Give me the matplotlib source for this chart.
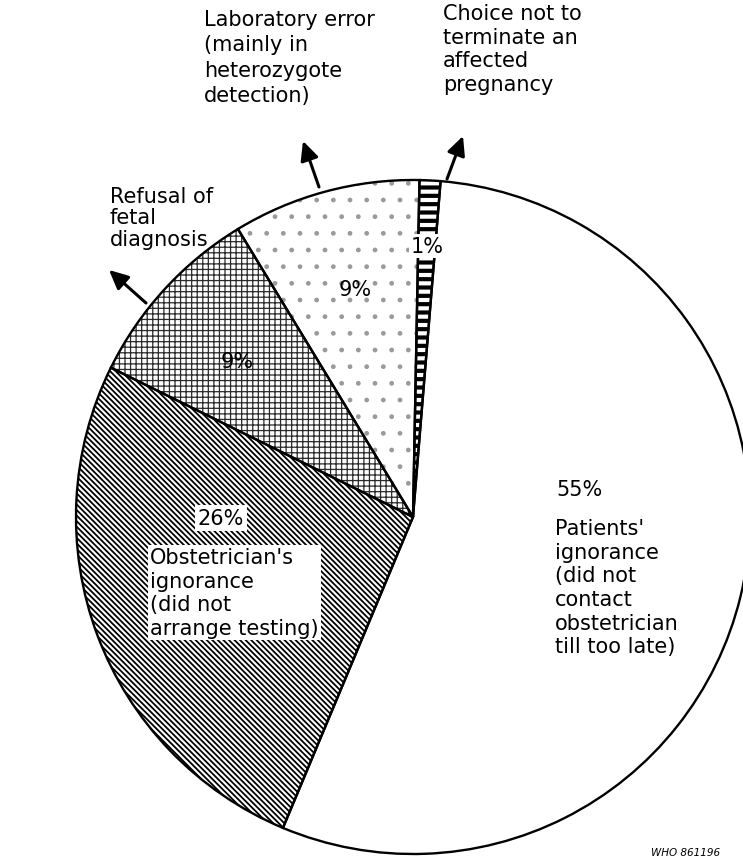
import matplotlib
matplotlib.use("Agg")
import matplotlib.pyplot as plt
from matplotlib.patches import Wedge

# ---- data ----
categories = [
    "Choice not to terminate an affected pregnancy",
    "Laboratory error (mainly in heterozygote detection)",
    "Refusal of fetal diagnosis",
    "Obstetrician's ignorance (did not arrange testing)",
    "Patients' ignorance (did not contact obstetrician till too late)",
]
values = [1, 9, 9, 26, 55]
pct_labels = ["1%", "9%", "9%", "26%", "55%"]
hatches = ["--", ".", "+++", "\\" * 6, ""]
hatch_colors = ["black", "#9a9a9a", "#2a2a2a", "black", "black"]
hatch_lws = [3.0, 1.0, 0.9, 1.3, 1.0]

W, H = 743, 862
fig = plt.figure(figsize=(W / 100, H / 100), dpi=100)
ax = fig.add_axes([0, 0, 1, 1])


def Y(y):
    return H - y


CX, CY, R = 413, 518, 337
wedges, _ = ax.pie(values, startangle=85.3, counterclock=True,
                   center=(CX, Y(CY)), radius=R, colors=["white"] * 5,
                   wedgeprops=dict(edgecolor="none", linewidth=0),
                   frame=True)
for w, h, hc, lw in zip(wedges, hatches, hatch_colors, hatch_lws):
    if h:
        p = Wedge(w.center, w.r, w.theta1, w.theta2, fill=False,
                  hatch=h, edgecolor=hc, linewidth=0)
        if hasattr(p, "set_hatch_linewidth"):
            p.set_hatch_linewidth(lw)
        ax.add_patch(p)
for w in wedges:
    ax.add_patch(Wedge(w.center, w.r, w.theta1, w.theta2, fill=False,
                       edgecolor="black", linewidth=1.7))

ax.set_xlim(0, W)
ax.set_ylim(0, H)
ax.set_aspect("equal")
ax.axis("off")

fs = 15
txt = dict(fontsize=fs, family="DejaVu Sans", color="black")

# percentage labels
ax.text(427, Y(247), pct_labels[0], ha="center", va="center",
        bbox=dict(boxstyle="square,pad=0.08", fc="white", ec="none"), **txt)
ax.text(355, Y(290), pct_labels[1], ha="center", va="center", **txt)
ax.text(237, Y(362), pct_labels[2], ha="center", va="center", **txt)
ax.text(221, Y(519), pct_labels[3], ha="center", va="center",
        bbox=dict(boxstyle="square,pad=0.15", fc="white", ec="none"), **txt)
ax.text(580, Y(490), pct_labels[4], ha="center", va="center", **txt)

# in-pie descriptions
ax.text(555, Y(519), "Patients'\nignorance\n(did not\ncontact\nobstetrician\ntill too late)",
        ha="left", va="top", linespacing=1.23, **txt)
ax.text(150, Y(548), "Obstetrician's\nignorance\n(did not\narrange testing)",
        ha="left", va="top", linespacing=1.22,
        bbox=dict(boxstyle="square,pad=0.1", fc="white", ec="none"), **txt)

# outside descriptions
ax.text(204, Y(10), "Laboratory error\n(mainly in\nheterozygote\ndetection)",
        ha="left", va="top", linespacing=1.33, **txt)
ax.text(443, Y(4), "Choice not to\nterminate an\naffected\npregnancy",
        ha="left", va="top", linespacing=1.22, **txt)
ax.text(110, Y(187), "Refusal of\nfetal\ndiagnosis",
        ha="left", va="top", linespacing=1.08, **txt)

# arrows
arrow = dict(arrowstyle="-|>,head_length=1.15,head_width=0.55", color="black",
             lw=2.2, shrinkA=0, shrinkB=0)
ax.annotate("", xy=(303, Y(142)), xytext=(319, Y(188)), arrowprops=arrow)
ax.annotate("", xy=(463, Y(137)), xytext=(447, Y(180)), arrowprops=arrow)
ax.annotate("", xy=(109, Y(271)), xytext=(146, Y(304)), arrowprops=arrow)

ax.text(651, Y(853), "WHO 861196", ha="left", va="center", fontsize=7.5,
        style="italic", family="DejaVu Sans")

fig.savefig("out.png", dpi=100, facecolor="white")
